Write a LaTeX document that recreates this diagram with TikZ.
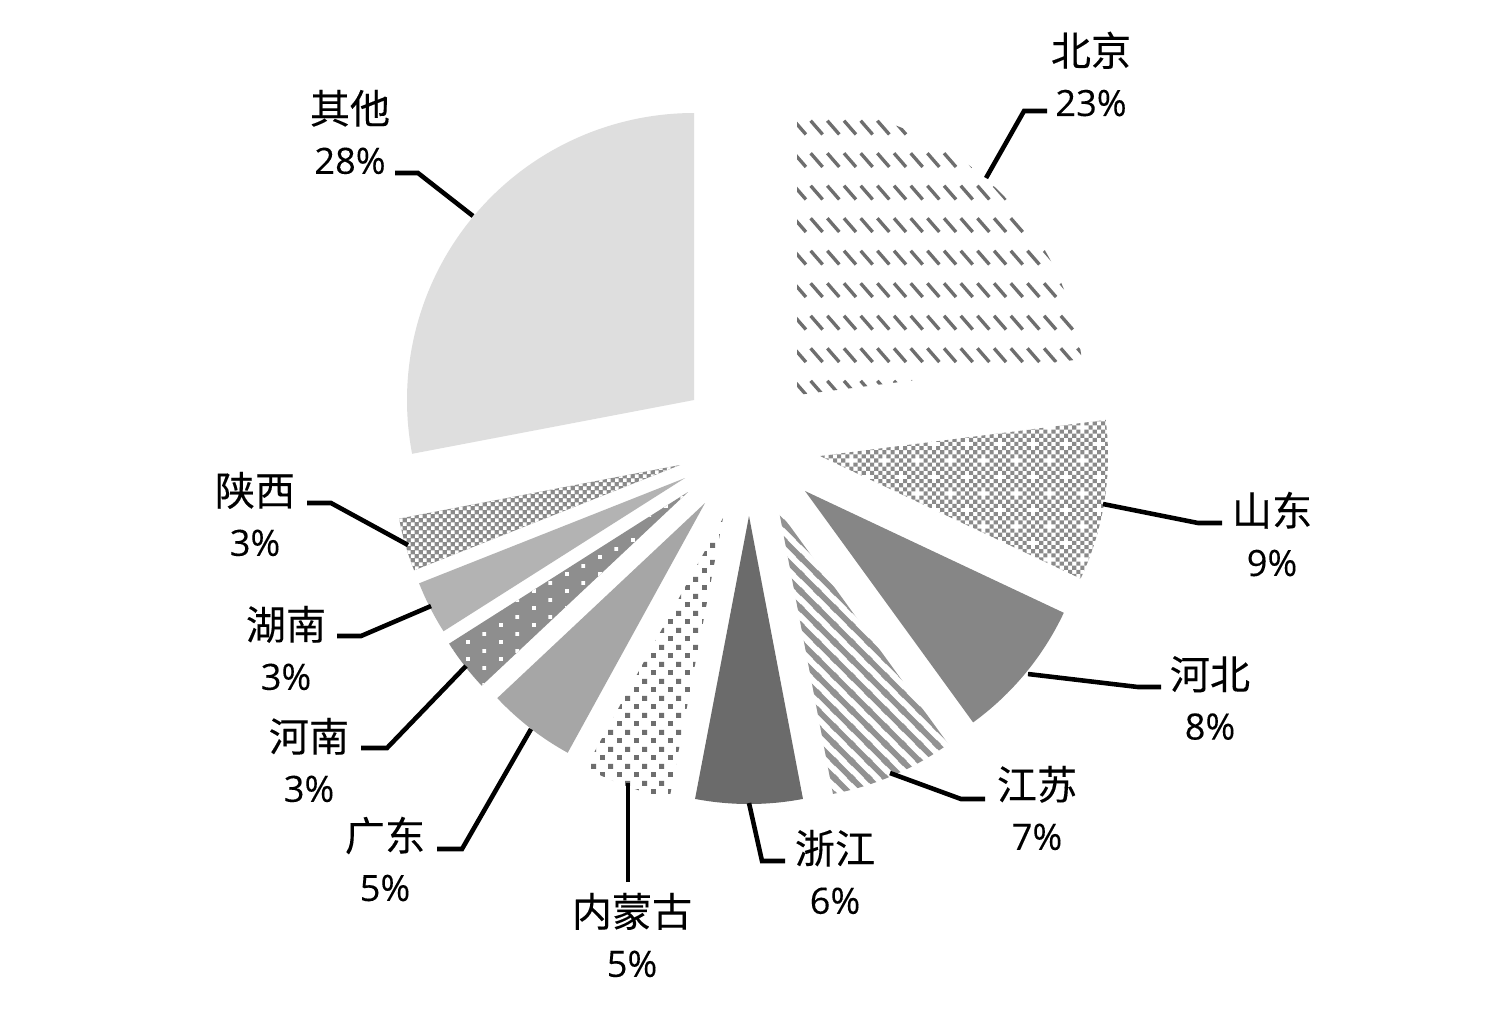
\documentclass[tikz,border=0pt]{standalone}
\usepackage{fontspec}
\usepackage{xcolor}
\usetikzlibrary{patterns}
\setmainfont[FakeBold=0.2]{Noto Sans CJK SC}
\newfontfamily\digits[FakeBold=0.15]{Open Sans}
\definecolor{hatch}{HTML}{8A8A8A}
\definecolor{stripe}{HTML}{929292}
\definecolor{dotdark}{HTML}{6E6E6E}
\definecolor{other}{HTML}{DEDEDE}
\definecolor{hebei}{HTML}{868686}
\definecolor{zhejiang}{HTML}{6B6B6B}
\definecolor{guangdong}{HTML}{A6A6A6}
\definecolor{hunan}{HTML}{B3B3B3}
\definecolor{henan}{HTML}{8E8E8E}
% tile sizes are in pt, one picture pixel is 0.2845pt
\pgfdeclarepatternformonly{bjdash}{\pgfqpoint{2.5pt}{-1pt}}{\pgfqpoint{7.242pt}{8.247pt}}{\pgfqpoint{4.742pt}{9.247pt}}{
  \pgfsetlinewidth{0.95pt}
  \pgfpathmoveto{\pgfqpoint{2.9pt}{3.5pt}}
  \pgfpathlineto{\pgfqpoint{6.3pt}{-0.4pt}}
  \pgfusepath{stroke}
}
\pgfdeclarepatternformonly{sdcheck}{\pgfqpoint{0pt}{0pt}}{\pgfqpoint{9.484pt}{9.484pt}}{\pgfqpoint{9.484pt}{9.484pt}}{
  \foreach \i in {0,...,7}{
    \foreach \j in {0,...,7}{
      \pgfmathtruncatemacro{\skipcell}{(mod(\i+\j,2)==1)||(\i==0&&\j==0)||(\i==4&&\j==4)}
      \ifnum\skipcell=0
        \pgfpathrectangle{\pgfpoint{\i*1.1855pt}{\j*1.1855pt}}{\pgfqpoint{1.1855pt}{1.1855pt}}
        \pgfusepath{fill}
      \fi
    }
  }
}
\pgfdeclarepatternformonly{sxcheck}{\pgfqpoint{0pt}{0pt}}{\pgfqpoint{2.371pt}{2.371pt}}{\pgfqpoint{2.371pt}{2.371pt}}{
  \pgfpathrectangle{\pgfqpoint{0.04pt}{0.04pt}}{\pgfqpoint{1.1pt}{1.1pt}}
  \pgfpathrectangle{\pgfqpoint{1.225pt}{1.225pt}}{\pgfqpoint{1.1pt}{1.1pt}}
  \pgfusepath{fill}
}
\pgfdeclarepatternformonly{hndots}{\pgfqpoint{0pt}{0pt}}{\pgfqpoint{9.484pt}{4.742pt}}{\pgfqpoint{9.484pt}{4.742pt}}{
  \pgfpathrectangle{\pgfqpoint{0pt}{0pt}}{\pgfqpoint{1.1pt}{1.1pt}}
  \pgfpathrectangle{\pgfqpoint{4.742pt}{2.371pt}}{\pgfqpoint{1.1pt}{1.1pt}}
  \pgfusepath{fill}
}
\pgfdeclarepatternformonly{nmdots}{\pgfqpoint{0pt}{0pt}}{\pgfqpoint{4.742pt}{4.742pt}}{\pgfqpoint{4.742pt}{4.742pt}}{
  \pgfpathrectangle{\pgfqpoint{0pt}{0pt}}{\pgfqpoint{1.4pt}{1.4pt}}
  \pgfpathrectangle{\pgfqpoint{2.371pt}{2.371pt}}{\pgfqpoint{1.4pt}{1.4pt}}
  \pgfusepath{fill}
}
\pgfdeclarepatternformonly{jsstripes}{\pgfqpoint{0pt}{0pt}}{\pgfqpoint{4.742pt}{4.742pt}}{\pgfqpoint{4.742pt}{4.742pt}}{
  \pgfsetlinewidth{1.6pt}
  \pgfpathmoveto{\pgfqpoint{-1pt}{5.742pt}}
  \pgfpathlineto{\pgfqpoint{5.742pt}{-1pt}}
  \pgfpathmoveto{\pgfqpoint{-1.5pt}{1.5pt}}
  \pgfpathlineto{\pgfqpoint{1.5pt}{-1.5pt}}
  \pgfpathmoveto{\pgfqpoint{3.242pt}{6.242pt}}
  \pgfpathlineto{\pgfqpoint{6.242pt}{3.242pt}}
  \pgfusepath{stroke}
}
\tikzset{
  leader/.style={draw=black, line width=1.3pt, line join=miter},
  lab/.style={align=center, inner sep=0pt, text=black, font=\fontsize{11.4}{14.3}\selectfont},
  wbj/.style={pattern=bjdash, pattern color=dotdark},
  wsd/.style={pattern=sdcheck, pattern color=hatch},
  wsx/.style={preaction={fill=hatch}, pattern=sxcheck, pattern color=white},
  whn/.style={preaction={fill=henan}, pattern=hndots, pattern color=white},
  wnm/.style={pattern=nmdots, pattern color=dotdark},
  wjs/.style={pattern=jsstripes, pattern color=stripe}
}
\newcommand{\DrawWedge}[5]{% apex,start angle,end angle,radius,style
  \path[#5] (#1) -- ++(#2:#4) arc[start angle=#2, end angle=#3, radius=#4] -- cycle;
}
\newcommand{\DrawLabel}[7]{% name,position,region,share,leader points
  \node[lab] (#1) at (#2) {#3\\{\digits\fontsize{10.3}{14.3}\selectfont #4\%}};
  \coordinate (#1a) at (#5);
  \coordinate (#1b) at (#6);
  \coordinate (#1c) at (#7);
  \draw[leader] (#1a) -- (#1b) -- (#1c);
}

\begin{document}
\begin{tikzpicture}[x=0.01cm, y=-0.01cm]
  \useasboundingbox (0,0) rectangle (1492,1011);
  \fill[white] (0,0) rectangle (1492,1011);
  % wedges, angles run clockwise from east
  \DrawWedge{694,400}{169.2}{270}{287}{fill=other}
  \DrawWedge{797,395}{-90}{-7.2}{287}{wbj}
  \DrawWedge{820,456}{-7.2}{25.2}{288}{wsd}
  \DrawWedge{805,491}{25.2}{54}{286}{fill=hebei}
  \DrawWedge{779,511}{54}{79.2}{288}{wjs}
  \DrawWedge{749,516}{79.2}{100.8}{288}{fill=zhejiang}
  \DrawWedge{723,518}{100.8}{118.8}{285}{wnm}
  \DrawWedge{705,503}{118.8}{136.8}{285}{fill=guangdong}
  \DrawWedge{688,492}{136.8}{147.6}{283}{whn}
  \DrawWedge{685,478}{147.6}{158.4}{286}{fill=hunan}
  \DrawWedge{680,465}{158.4}{169.2}{286}{wsx}
  % labels and leaders
  \DrawLabel{bj}{1091,74}{北京}{23}{1047,111}{1024,111}{986,178}
  \DrawLabel{sd}{1272,534}{山东}{9}{1222,523}{1198,523}{1103,504}
  \DrawLabel{heb}{1210,698}{河北}{8}{1161,687}{1138,687}{1028,674}
  \DrawLabel{js}{1037,808}{江苏}{7}{985,799}{961,799}{890,773}
  \DrawLabel{zj}{835,872}{浙江}{6}{785,861}{762,861}{749,803}
  \DrawLabel{nm}{632,935}{内蒙古}{5}{628,882}{628,832}{628,783}
  \DrawLabel{gd}{385,859}{广东}{5}{437,849}{462,849}{531,729}
  \DrawLabel{hen}{309,760}{河南}{3}{361,748}{387,748}{466,666}
  \DrawLabel{hun}{286,648}{湖南}{3}{337,636}{361,636}{431,606}
  \DrawLabel{sx}{255,514}{陕西}{3}{307,503}{331,503}{408,545}
  \DrawLabel{qt}{350,132}{其他}{28}{395,173}{418,173}{473,216}
\end{tikzpicture}
\end{document}
